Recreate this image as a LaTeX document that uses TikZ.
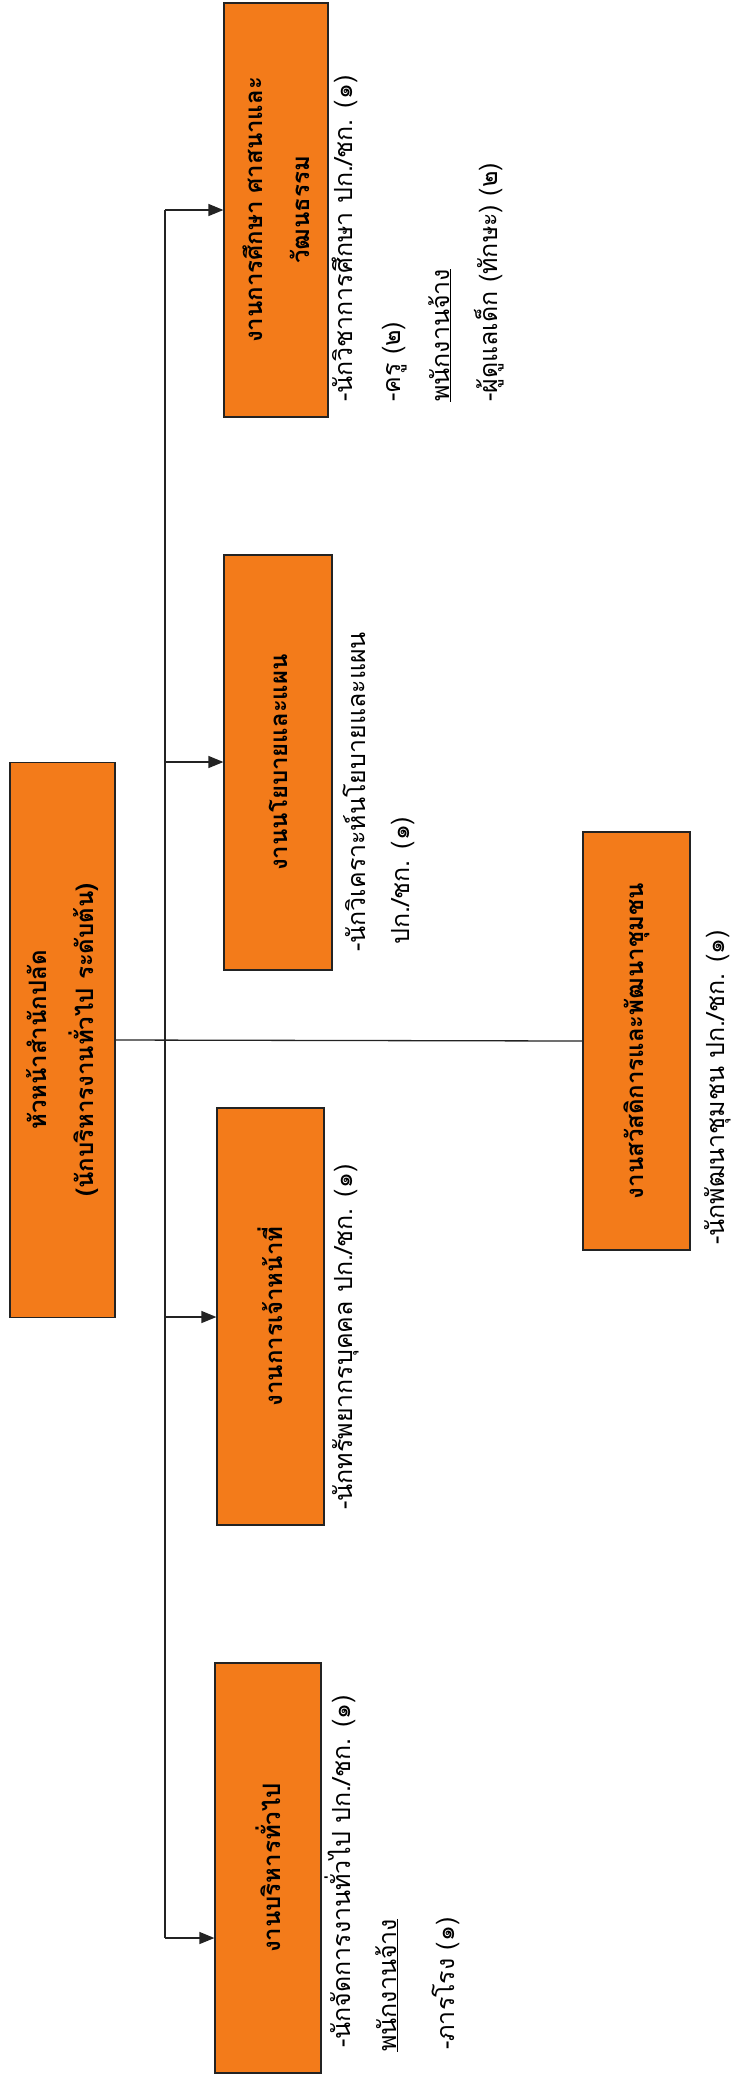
\documentclass[tikz,border=0pt]{standalone}
\usepackage{fontspec}
\newfontfamily\thai[Script=Thai]{Loma}
\usetikzlibrary{arrows.meta}
\definecolor{boxorange}{RGB}{243,123,26}
\definecolor{linegray}{RGB}{35,35,35}
\begin{document}
\begin{tikzpicture}[x=1pt,y=-1pt,
  orgbox/.style={draw=linegray, line width=1.2pt, fill=boxorange, rotate=90,
    inner sep=0pt, align=center, font=\thai\bfseries\fontsize{24}{47}\selectfont},
  lbl/.style={rotate=90, anchor=mid west, inner sep=0pt,
    font=\thai\fontsize{25}{30}\selectfont},
  conn/.style={draw=linegray, line width=1.3pt},
  arr/.style={conn, -{Triangle[length=15pt,width=12pt]}}]
\useasboundingbox (0,0) rectangle (738,2081);

% boxes
\node[orgbox, minimum width=555pt, minimum height=105pt] (head) at (62.5,1040)
  {หัวหน้าสำนักปลัด\\(นักบริหารงานทั่วไป ระดับต้น)};
\node[orgbox, minimum width=410pt, minimum height=106pt] (box1) at (268,1868)
  {งานบริหารทั่วไป};
\node[orgbox, minimum width=417pt, minimum height=107pt] (box2) at (270.5,1316.5)
  {งานการเจ้าหน้าที่};
\node[orgbox, minimum width=415pt, minimum height=108pt] (box3) at (278,762.5)
  {งานนโยบายและแผน};
\node[orgbox, minimum width=414pt, minimum height=104pt] (box4) at (276,210)
  {งานการศึกษา ศาสนาและ\\วัฒนธรรม};
\node[orgbox, minimum width=418pt, minimum height=107pt] (box5) at (636.5,1041)
  {งานสวัสดิการและพัฒนาชุมชน};

% connectors
\coordinate (vtop) at (165,210);
\coordinate (j3) at (165,762);
\coordinate (j2) at (165,1317);
\coordinate (vbot) at (165,1938);
\draw[conn] (vtop) -- (vbot);
\draw[arr] (vtop) -- (vtop -| box4.north);
\draw[arr] (j3) -- (j3 -| box3.north);
\draw[arr] (j2) -- (j2 -| box2.north);
\draw[arr] (vbot) -- (vbot -| box1.north);
\draw[conn] (head.south) -- (box5.north);

% labels box 1
\node[lbl] (l1a) at (348,2048) {-นักจัดการงานทั่วไป ปก./ชก. (๑)};
\node[lbl] (l1b) at (394,2052) {\underline{พนักงานจ้าง}};
\node[lbl] (l1c) at (452,2050) {-ภารโรง (๑)};
% labels box 2
\node[lbl] (l2a) at (350,1510) {-นักทรัพยากรบุคคล ปก./ชก. (๑)};
% labels box 3
\node[lbl] (l3a) at (363,952) {-นักวิเคราะห์นโยบายและแผน};
\node[lbl] (l3b) at (407,945) {ปก./ชก. (๑)};
% labels box 4
\node[lbl] (l4a) at (350,402) {-นักวิชาการศึกษา ปก./ชก. (๑)};
\node[lbl] (l4b) at (398,402) {-ครู (๒)};
\node[lbl] (l4c) at (447,402) {\underline{พนักงานจ้าง}};
\node[lbl] (l4d) at (495,402) {-ผู้ดูแลเด็ก (ทักษะ) (๒)};
% labels box 5
\node[lbl] (l5a) at (722,1245) {-นักพัฒนาชุมชน ปก./ชก. (๑)};
\end{tikzpicture}
\end{document}
